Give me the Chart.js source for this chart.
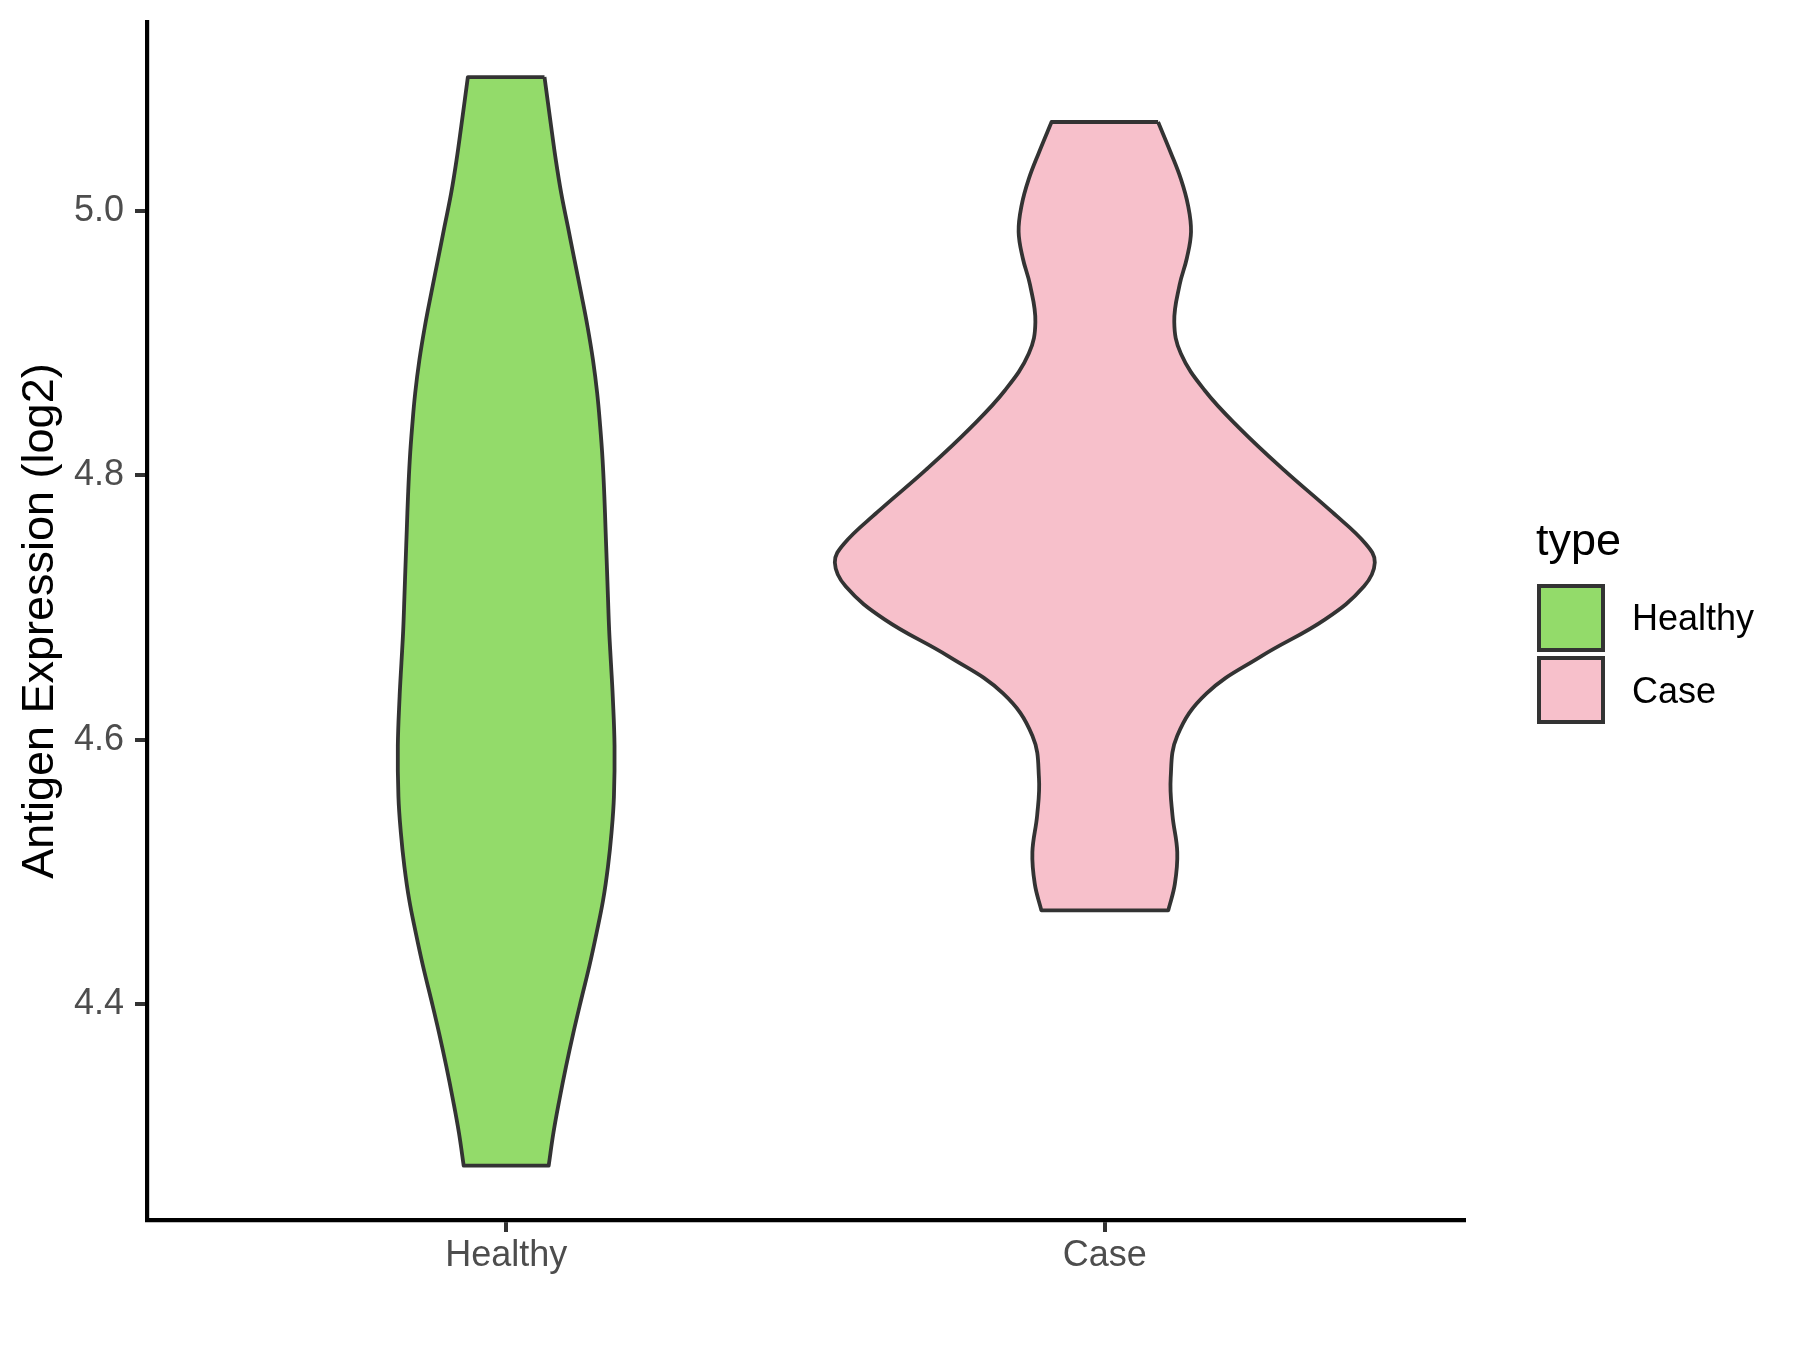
<!DOCTYPE html>
<html>
<head>
<meta charset="utf-8">
<title>Antigen Expression</title>
<script src="https://cdn.jsdelivr.net/npm/chart.js@4.4.1/dist/chart.umd.min.js"></script>
<style>
  body { margin: 0; background: #fff; }
</style>
</head>
<body>
<canvas id="chart" width="1800" height="1350"></canvas>
<script>
// categories and ticks
const categories = ['Healthy', 'Case'];
const yTicks = [4.4, 4.6, 4.8, 5.0];
const fillColors = ['#93DB6A', '#F7C0CB'];

// violin outlines: y value and half width (x units)
const healthyY    = [5.101, 5.064, 5.038, 5.013, 4.988, 4.963, 4.938, 4.912, 4.887, 4.862, 4.837, 4.812, 4.784, 4.759, 4.734, 4.708, 4.683, 4.658, 4.633, 4.595, 4.557, 4.530, 4.504, 4.479, 4.454, 4.429, 4.403, 4.378, 4.353, 4.328, 4.303, 4.278];
const healthyHalf = [0.064, 0.075, 0.083, 0.092, 0.103, 0.114, 0.125, 0.136, 0.145, 0.152, 0.157, 0.161, 0.164, 0.166, 0.168, 0.170, 0.172, 0.175, 0.178, 0.181, 0.180, 0.176, 0.170, 0.162, 0.151, 0.139, 0.125, 0.112, 0.100, 0.089, 0.079, 0.071];

const caseY    = [5.067, 5.044, 5.024, 5.004, 4.984, 4.964, 4.944, 4.916, 4.892, 4.864, 4.836, 4.804, 4.772, 4.748, 4.734, 4.716, 4.691, 4.663, 4.635, 4.603, 4.571, 4.543, 4.515, 4.491, 4.471];
const caseHalf = [0.089, 0.110, 0.127, 0.139, 0.144, 0.137, 0.125, 0.116, 0.127, 0.167, 0.224, 0.299, 0.380, 0.436, 0.451, 0.433, 0.368, 0.261, 0.170, 0.121, 0.110, 0.113, 0.121, 0.117, 0.106];

const FONT = '"Liberation Sans", Arial, sans-serif';

// closed outline: right side down, left side up (corners doubled so they stay sharp)
function violinPoints(center, ys, half) {
  const right = ys.map((y, i) => ({x: center + half[i], y: y}));
  const left = ys.map((y, i) => ({x: center - half[i], y: y})).reverse();
  const n = right.length;
  return [right[0], ...right, right[n - 1], left[0], ...left, left[n - 1], right[0]];
}

const legendPlugin = {
  id: 'typeLegend',
  afterDraw(chart) {
    const ctx = chart.ctx;
    ctx.save();
    ctx.fillStyle = '#000';
    ctx.textBaseline = 'alphabetic';
    ctx.textAlign = 'left';
    ctx.font = '45px ' + FONT;
    ctx.fillText('type', 1536, 555);
    const keyTop = [586, 658];
    const textBase = [630, 703];
    categories.forEach((c, i) => {
      ctx.fillStyle = fillColors[i];
      ctx.fillRect(1539, keyTop[i], 64, 64);
      ctx.strokeStyle = '#333333';
      ctx.lineWidth = 4;
      ctx.strokeRect(1539, keyTop[i], 64, 64);
      ctx.fillStyle = '#000';
      ctx.font = '36px ' + FONT;
      ctx.fillText(c, 1632, textBase[i]);
    });
    ctx.restore();
  }
};

const datasets = [
  {label: categories[0], data: violinPoints(1, healthyY, healthyHalf)},
  {label: categories[1], data: violinPoints(2, caseY, caseHalf)}
].map((d, i) => Object.assign(d, {
  backgroundColor: fillColors[i],
  borderColor: '#333333',
  borderWidth: 3.8,
  borderJoinStyle: 'round',
  fill: 'shape',
  tension: 0.4,
  pointRadius: 0
}));

new Chart(document.getElementById('chart').getContext('2d'), {
  type: 'line',
  data: {datasets: datasets},
  options: {
    responsive: false,
    animation: false,
    devicePixelRatio: 1,
    layout: {padding: {top: 22, right: 336, left: 0, bottom: 0}},
    plugins: {legend: {display: false}, tooltip: {enabled: false}},
    scales: {
      x: {
        type: 'linear',
        min: 0.4,
        max: 2.6,
        afterBuildTicks: s => { s.ticks = categories.map((c, i) => ({value: i + 1})); },
        afterFit: s => { s.height = 130; s.paddingLeft = 0; s.paddingRight = 0; },
        ticks: {
          callback: v => categories[v - 1],
          color: '#4D4D4D',
          font: {family: FONT, size: 36},
          padding: 2,
          maxRotation: 0,
          autoSkip: false
        },
        grid: {drawOnChartArea: false, drawTicks: true, tickLength: 12, color: '#333333', lineWidth: 4},
        border: {display: true, color: '#000', width: 4.2}
      },
      y: {
        type: 'linear',
        min: 4.2369,
        max: 5.1426,
        afterBuildTicks: s => { s.ticks = yTicks.map(v => ({value: v})); },
        afterFit: s => { s.width = 147; s.paddingTop = 0; s.paddingBottom = 0; },
        ticks: {
          callback: v => v.toFixed(1),
          color: '#4D4D4D',
          font: {family: FONT, size: 36},
          padding: 11
        },
        title: {
          display: true,
          text: 'Antigen Expression (log2)',
          color: '#000',
          font: {family: FONT, size: 45},
          padding: {top: 14, bottom: 0}
        },
        grid: {drawOnChartArea: false, drawTicks: true, tickLength: 12, color: '#333333', lineWidth: 4},
        border: {display: true, color: '#000', width: 4.2}
      }
    }
  },
  plugins: [legendPlugin]
});
</script>
</body>
</html>
